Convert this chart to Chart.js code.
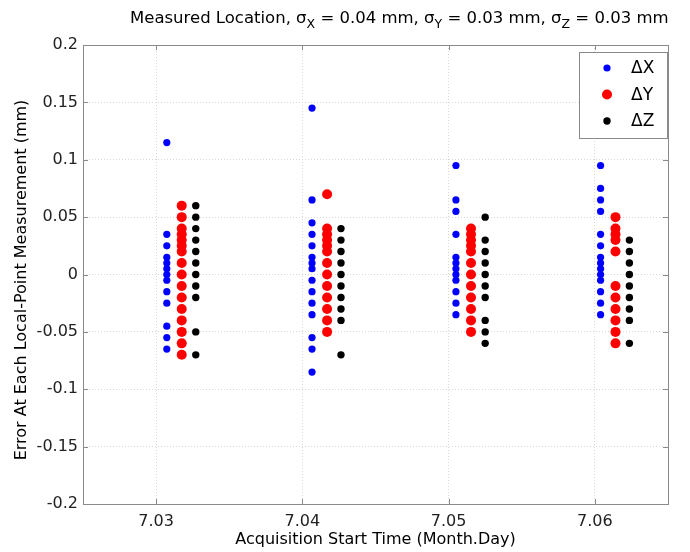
<!DOCTYPE html>
<html>
<head>
<meta charset="utf-8">
<script src="https://cdn.jsdelivr.net/npm/chart.js@4.4.1/dist/chart.umd.min.js"></script>
<style>
html,body{margin:0;padding:0;background:#fff;}
#wrap{width:690px;height:552px;position:relative;}
</style>
</head>
<body>
<div id="wrap"><canvas id="c" width="690" height="552"></canvas></div>
<script>
// ---- data ----
const groupX = {
  dX: [7.03073, 7.04066, 7.05050, 7.06039],
  dY: [7.03175, 7.04169, 7.05153, 7.06141],
  dZ: [7.03271, 7.04264, 7.05250, 7.06236]
};
const dXValues = [
  [0.115, 0.035, 0.025, 0.015, 0.01, 0.005, 0.0, -0.005, -0.015, -0.025, -0.045, -0.055, -0.065],
  [0.145, 0.065, 0.045, 0.035, 0.025, 0.015, 0.01, 0.005, -0.005, -0.015, -0.025, -0.035, -0.055, -0.065, -0.085],
  [0.095, 0.065, 0.055, 0.035, 0.015, 0.01, 0.005, 0.0, -0.005, -0.015, -0.025, -0.035],
  [0.095, 0.075, 0.065, 0.055, 0.035, 0.025, 0.015, 0.01, 0.005, 0.0, -0.005, -0.015, -0.025, -0.035]
];
const dYValues = [
  [0.06, 0.05, 0.04, 0.035, 0.03, 0.025, 0.02, 0.01, 0.0, -0.01, -0.02, -0.03, -0.04, -0.05, -0.06, -0.07],
  [0.07, 0.04, 0.035, 0.03, 0.025, 0.02, 0.01, 0.0, -0.01, -0.02, -0.03, -0.04, -0.05],
  [0.04, 0.035, 0.03, 0.025, 0.02, 0.01, 0.0, -0.01, -0.02, -0.03, -0.04, -0.05],
  [0.05, 0.04, 0.035, 0.03, 0.02, -0.01, -0.02, -0.03, -0.04, -0.05, -0.06]
];
const dZValues = [
  [0.06, 0.05, 0.04, 0.03, 0.02, 0.01, 0.0, -0.01, -0.02, -0.05, -0.07],
  [0.04, 0.03, 0.02, 0.01, 0.0, -0.01, -0.02, -0.03, -0.04, -0.07],
  [0.05, 0.03, 0.02, 0.01, 0.0, -0.01, -0.02, -0.04, -0.05, -0.06],
  [0.03, 0.02, 0.01, 0.0, -0.01, -0.02, -0.03, -0.04, -0.06]
];
const seriesNames = ['\u0394X', '\u0394Y', '\u0394Z'];
const xTicks = [7.03, 7.04, 7.05, 7.06];
const xTickLabels = ['7.03', '7.04', '7.05', '7.06'];
const yTicks = [0.2, 0.15, 0.1, 0.05, 0, -0.05, -0.1, -0.15, -0.2];
const yTickLabels = ['0.2', '0.15', '0.1', '0.05', '0', '-0.05', '-0.1', '-0.15', '-0.2'];
const titleParts = [
  ['Measured Location, \u03c3', false], ['X', true], [' = 0.04 mm, \u03c3', false], ['Y', true],
  [' = 0.03 mm, \u03c3', false], ['Z', true], [' = 0.03 mm', false]
];
const xTitle = 'Acquisition Start Time (Month.Day)';
const yTitle = 'Error At Each Local-Point Measurement (mm)';

function toPoints(xs, vals) {
  const out = [];
  vals.forEach((arr, g) => arr.forEach(v => out.push({x: xs[g], y: v})));
  return out;
}

const FONT = '"DejaVu Sans", sans-serif';
const AXIS_COLOR = '#8a8a8a';

const framePlugin = {
  id: 'frame',
  beforeDatasetsDraw(chart) {
    const {ctx, chartArea: a} = chart;
    ctx.save();
    ctx.strokeStyle = AXIS_COLOR;
    ctx.lineWidth = 1;
    const ys = chart.scales.y, xs = chart.scales.x;
    const L = 5;
    ctx.beginPath();
    yTicks.forEach(v => {
      const p = Math.round(ys.getPixelForValue(v)) + 0.5;
      ctx.moveTo(a.left, p); ctx.lineTo(a.left + L, p);
      ctx.moveTo(a.right, p); ctx.lineTo(a.right - L, p);
    });
    xTicks.forEach(v => {
      const p = Math.round(xs.getPixelForValue(v)) + 0.5;
      ctx.moveTo(p, a.bottom); ctx.lineTo(p, a.bottom - L);
      ctx.moveTo(p, a.top); ctx.lineTo(p, a.top + L);
    });
    ctx.stroke();
    ctx.restore();
  },
  afterDraw(chart) {
    const {ctx, chartArea: a} = chart;
    ctx.save();
    ctx.strokeStyle = AXIS_COLOR;
    ctx.lineWidth = 1;
    ctx.strokeRect(Math.round(a.left) + 0.5, Math.round(a.top) + 0.5, Math.round(a.right - a.left), Math.round(a.bottom - a.top));
    // title with subscripts
    ctx.fillStyle = '#000';
    ctx.textBaseline = 'alphabetic';
    const big = '16.5px ' + FONT, small = '12.5px ' + FONT;
    let x = 130;
    const base = 23;
    titleParts.forEach(([t, sub]) => {
      ctx.font = sub ? small : big;
      ctx.textAlign = 'left';
      ctx.fillText(t, x, sub ? base + 5 : base);
      x += ctx.measureText(t).width;
    });
    // axis titles
    ctx.font = '16px ' + FONT;
    ctx.textAlign = 'center';
    ctx.textBaseline = 'middle';
    ctx.fillText(xTitle, (a.left + a.right) / 2, 540);
    ctx.save();
    ctx.translate(22, 280);
    ctx.rotate(-Math.PI / 2);
    ctx.fillText(yTitle, 0, 0);
    ctx.restore();
    // legend
    const lx = 579.5, ly = 52.5, lw = 88, lh = 86;
    ctx.fillStyle = '#fff';
    ctx.fillRect(lx, ly, lw, lh);
    ctx.strokeStyle = AXIS_COLOR;
    ctx.strokeRect(lx, ly, lw, lh);
    const rows = [68, 94.5, 121];
    chart.data.datasets.forEach((ds, i) => {
      ctx.beginPath();
      ctx.fillStyle = ds.backgroundColor;
      ctx.arc(607, rows[i], ds.pointRadius, 0, Math.PI * 2);
      ctx.fill();
      ctx.fillStyle = '#000';
      ctx.font = '17px ' + FONT;
      ctx.textAlign = 'left';
      ctx.textBaseline = 'middle';
      ctx.fillText(ds.label, 631, rows[i] + 1);
    });
    ctx.restore();
  }
};

new Chart(document.getElementById('c'), {
  type: 'scatter',
  data: {
    datasets: [
      {label: seriesNames[0], data: toPoints(groupX.dX, dXValues), backgroundColor: '#0000ff', borderWidth: 0, pointRadius: 3.6},
      {label: seriesNames[1], data: toPoints(groupX.dY, dYValues), backgroundColor: '#ff0000', borderWidth: 0, pointRadius: 5},
      {label: seriesNames[2], data: toPoints(groupX.dZ, dZValues), backgroundColor: '#000000', borderWidth: 0, pointRadius: 3.7}
    ]
  },
  options: {
    responsive: false,
    animation: false,
    events: [],
    layout: {padding: {top: 45, right: 22, left: 0, bottom: 0}},
    plugins: {legend: {display: false}, tooltip: {enabled: false}, title: {display: false}},
    scales: {
      x: {
        type: 'linear', min: 7.025, max: 7.065,
        afterBuildTicks(s) { s.ticks = xTicks.map(v => ({value: v})); },
        afterFit(s) { s.height = 48; },
        ticks: {
          autoSkip: false, maxRotation: 0, padding: 8, color: '#222',
          font: {family: FONT, size: 16},
          callback: (v) => { const i = xTicks.findIndex(t => Math.abs(t - v) < 1e-9); return i >= 0 ? xTickLabels[i] : ''; }
        },
        grid: {color: '#d8d8d8', drawTicks: false, tickLength: 0},
        border: {display: false, dash: [1, 2]}
      },
      y: {
        type: 'linear', min: -0.2, max: 0.2,
        afterBuildTicks(s) { s.ticks = yTicks.map(v => ({value: v})); },
        afterFit(s) { s.width = 83; },
        ticks: {
          autoSkip: false, padding: 5, color: '#222',
          font: {family: FONT, size: 16},
          callback: (v) => { const i = yTicks.findIndex(t => Math.abs(t - v) < 1e-9); return i >= 0 ? yTickLabels[i] : ''; }
        },
        grid: {color: '#d8d8d8', drawTicks: false, tickLength: 0},
        border: {display: false, dash: [1, 2]}
      }
    }
  },
  plugins: [framePlugin]
});
</script>
</body>
</html>
